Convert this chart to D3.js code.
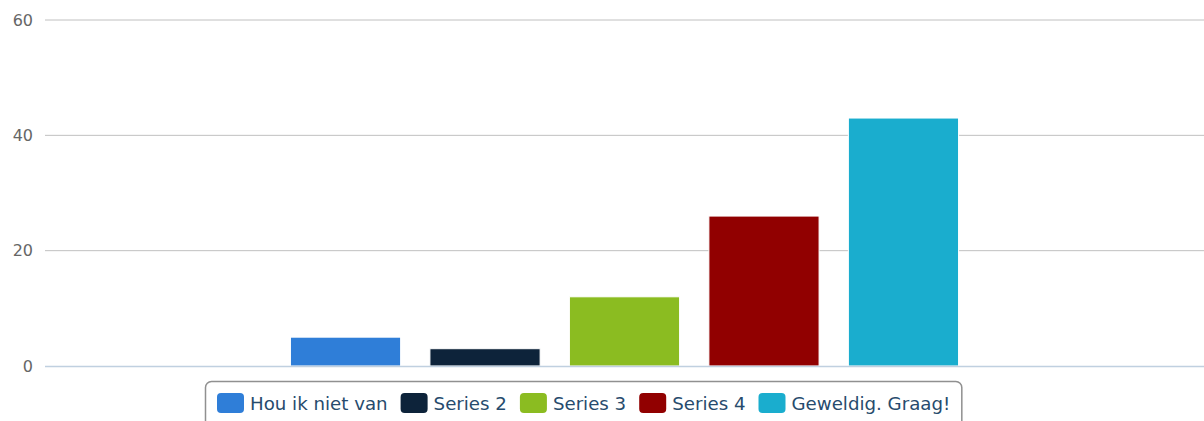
<!DOCTYPE html>
<html>
<head>
<meta charset="utf-8">
<script src="https://cdn.jsdelivr.net/npm/d3@7"></script>
<style>
  body { margin: 0; background: #fff; }
  svg { display: block; font-family: "DejaVu Sans", Verdana, sans-serif; }
</style>
</head>
<body>
<svg class="chart" width="1204" height="421"></svg>
<script>
// chart data
var seriesNames = ["Hou ik niet van", "Series 2", "Series 3", "Series 4", "Geweldig. Graag!"];
var seriesValues = [5, 3, 12, 26, 43];
var seriesColors = ["#2f7ed8", "#0d233a", "#8bbc21", "#910000", "#1aadce"];
var yTicks = [0, 20, 40, 60];

var svg = d3.select("svg.chart"),
  margin = {top: 20, right: 0, bottom: 55, left: 45};
var width = 1204 - margin.left - margin.right,
  height = 421 - margin.top - margin.bottom;
var g = svg.append("g").attr("transform", "translate(" + margin.left + "," + margin.top + ")");

var y = d3.scaleLinear().domain([0, 60]).range([height, 0]);

// one category, five series side by side
var x = d3.scaleBand().domain(seriesNames)
  .range([width / 2 - 348, width / 2 + 348])
  .paddingInner(0.21).paddingOuter(0.1);

//Grid lines
g.selectAll("line.grid")
  .data(yTicks.filter(function(d) { return d > 0; }))
  .enter().append("line")
  .attr("x1", 0).attr("x2", width)
  .attr("y1", function(d) { return y(d); })
  .attr("y2", function(d) { return y(d); })
  .attr("stroke", "#c0c0c0").attr("stroke-width", 1);

//Y labels
g.selectAll("text.ylab")
  .data(yTicks)
  .enter().append("text")
  .attr("x", -12)
  .attr("y", function(d) { return y(d); })
  .attr("dy", "0.35em")
  .attr("text-anchor", "end")
  .attr("fill", "#666")
  .style("font-size", "16px")
  .text(function(d) { return d; });

//Bars
g.selectAll("rect.bar")
  .data(seriesValues)
  .enter().append("rect")
  .attr("x", function(d, i) { return x(seriesNames[i]); })
  .attr("width", x.bandwidth())
  .attr("y", function(d) { return y(d); })
  .attr("height", function(d) { return height - y(d); })
  .attr("fill", function(d, i) { return seriesColors[i]; })
  .attr("stroke", "#fff").attr("stroke-width", 1);

//Axis line
g.append("line")
  .attr("x1", 0).attr("x2", width)
  .attr("y1", height + 0.5).attr("y2", height + 0.5)
  .attr("stroke", "#c0d0e0").attr("stroke-width", 1.5);

//Legend
var legend = svg.append("g");
var box = legend.append("rect")
  .attr("x", 205.5).attr("y", 381.5)
  .attr("rx", 6).attr("ry", 6)
  .attr("height", 60)
  .attr("fill", "#fff").attr("stroke", "#909090").attr("stroke-width", 1.5);

var lx = 217;
seriesNames.forEach(function(name, i) {
  legend.append("rect")
    .attr("x", lx).attr("y", 393)
    .attr("width", 27).attr("height", 20)
    .attr("rx", 4).attr("ry", 4)
    .attr("fill", seriesColors[i]);
  var t = legend.append("text")
    .attr("x", lx + 33).attr("y", 410)
    .attr("fill", "#274b6d")
    .style("font-size", "18.2px")
    .text(name);
  lx = lx + 33 + t.node().getComputedTextLength() + 13;
});
box.attr("width", lx - 205 - 2);
</script>
</body>
</html>
